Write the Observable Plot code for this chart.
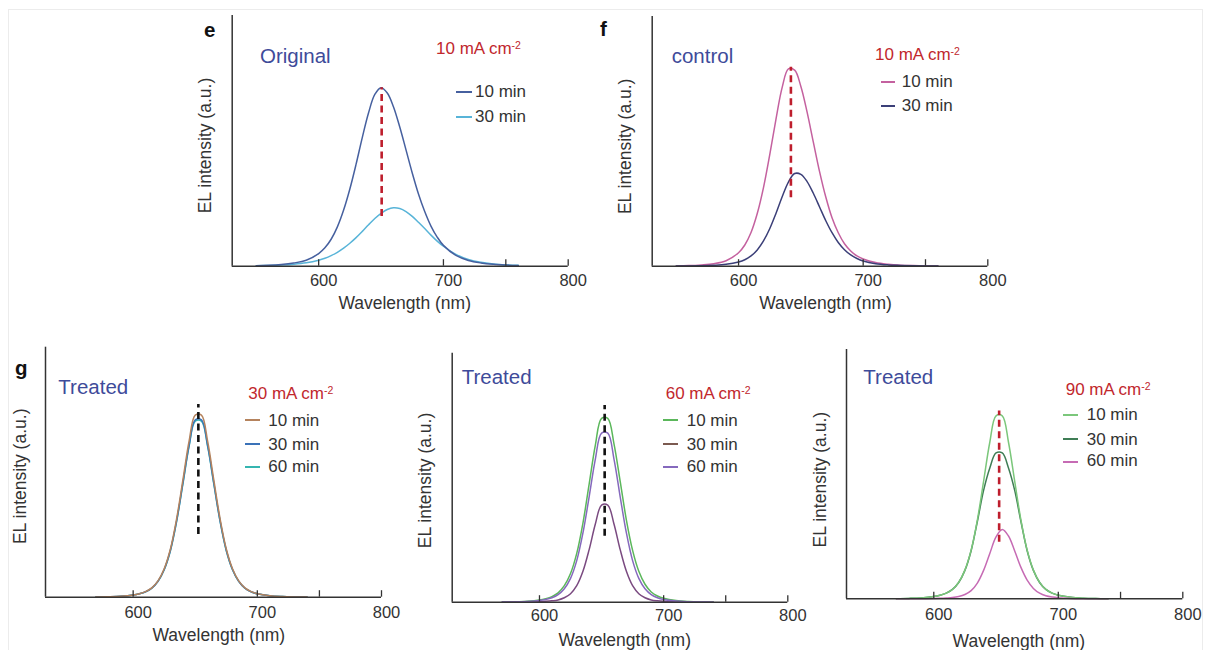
<!DOCTYPE html>
<html><head><meta charset="utf-8">
<script src="https://cdn.jsdelivr.net/npm/d3@7"></script>
<script src="https://cdn.jsdelivr.net/npm/@observablehq/plot@0.6"></script>
<style>
body{margin:0;background:#fff;}
#root{position:relative;width:1205px;height:650px;overflow:hidden;background:#fff;font-family:Arial,"Liberation Sans",Helvetica,sans-serif;color:#333;}
.abs{position:absolute;white-space:nowrap;}
.plotbox{position:absolute;}
#frame{position:absolute;left:8px;top:9px;width:1195px;height:700px;border:1px solid #ececec;box-sizing:border-box;}
</style></head><body><div id="root"><div id="frame"></div></div>
<script>
// ---------------- data ----------------
const wlTop = [550,560,570,580,590,600,605,610,615,620,625,630,635,640,645,650,655,660,665,670,675,680,685,690,695,700,710,720,730,740,750,760];
const wlBottom = [570,580,590,600,605,610,615,620,625,630,635,640,645,650,655,660,665,670,675,680,685,690,695,700,710,720,730,740];

// panel e (Original, 10 mA cm-2)
const e10 = [0.2,0.36,0.68,1.28,2.35,5.05,7.33,10.75,15.7,22.4,30.8,40.7,51.4,61.2,68.5,71.2,69.1,63.5,55.5,46.4,37.2,28.8,21.8,16.0,11.6,8.3,4.3,2.3,1.3,0.75,0.45,0.26];
const e30 = [0.2,0.3,0.48,0.79,1.35,2.4,3.19,4.24,5.55,7.2,9.16,11.4,13.9,16.5,19.0,21.1,22.6,23.3,23.0,21.8,19.9,17.5,15.0,12.4,10.0,7.95,4.73,2.68,1.54,0.89,0.52,0.33];
// panel f (control, 10 mA cm-2)
const f10 = [0.12,0.24,0.52,1.0,2.2,5.4,8.5,13.5,21.1,31.5,44.6,58.8,71.6,79.0,78.5,72.0,61.7,49.7,37.9,27.7,19.4,13.4,9.0,6.1,4.1,2.9,1.45,0.77,0.41,0.24,0.13,0.08];
const f30 = [0.05,0.09,0.18,0.36,0.74,1.7,2.6,4.1,6.5,10.1,15.0,21.1,27.8,33.7,37.1,36.8,33.9,29.2,23.7,18.2,13.4,9.5,6.6,4.5,3.1,2.1,1.0,0.52,0.32,0.17,0.09,0.05];
// panel g (Treated, 30 mA cm-2)
const g10 = [0.07,0.16,0.37,0.89,1.41,2.23,3.72,6.54,11.4,19.3,31.4,46.7,62.3,72.8,72.8,62.3,46.7,31.4,19.3,11.4,6.54,3.72,2.23,1.41,0.59,0.25,0.1,0.04];
const g30 = [0.07,0.16,0.36,0.87,1.37,2.17,3.62,6.36,11.1,18.8,30.5,45.5,60.6,70.9,70.9,60.6,45.5,30.5,18.8,11.1,6.36,3.62,2.17,1.37,0.57,0.24,0.1,0.04];
const g60 = [0.07,0.15,0.36,0.86,1.36,2.15,3.59,6.32,11.0,18.6,30.3,45.1,60.2,70.4,70.4,60.2,45.1,30.3,18.6,11.0,6.32,3.59,2.15,1.36,0.57,0.24,0.1,0.04];
// panel h (Treated, 60 mA cm-2)
const h10 = [0.07,0.16,0.38,0.9,1.43,2.26,3.77,6.63,11.5,19.6,31.8,47.4,63.1,73.8,73.8,63.6,48.5,33.0,20.8,12.4,7.2,4.1,2.5,1.6,0.7,0.3,0.12,0.05];
const h30 = [0.02,0.05,0.1,0.19,0.34,0.56,0.92,1.77,3.42,6.63,12.4,21.1,31.4,39.0,39.0,31.4,21.1,12.4,6.63,3.42,1.77,0.92,0.56,0.34,0.12,0.05,0.02,0.01];
const h60 = [0.06,0.12,0.3,0.69,1.11,1.8,3.05,5.41,9.58,16.7,27.8,42.3,57.5,67.9,67.9,57.5,42.3,27.8,16.7,9.58,5.41,3.05,1.8,1.11,0.45,0.19,0.08,0.03];
// panel i (Treated, 90 mA cm-2)
const i10 = [0.07,0.16,0.37,0.9,1.42,2.25,3.75,6.59,11.5,19.5,31.6,47.1,62.8,73.4,73.4,62.8,47.1,31.6,19.5,11.5,6.59,3.75,2.25,1.42,0.6,0.25,0.1,0.04];
const i30 = [0.07,0.16,0.37,0.9,1.42,2.25,3.75,6.55,11.4,19.3,31.0,43.5,52.5,58.5,58.5,52.5,43.5,31.0,19.3,11.4,6.55,3.75,2.25,1.42,0.6,0.25,0.1,0.04];
const i60 = [0.01,0.02,0.04,0.11,0.18,0.31,0.5,0.92,1.72,3.28,6.31,11.4,18.2,24.8,27.8,25.2,19.2,12.6,7.5,4.17,2.25,1.22,0.7,0.42,0.16,0.06,0.03,0.01];

// dashed peak markers: [wavelength, from, to]
const dashE = [650.5, 19.8, 71.2];
const dashF = [642, 27.4, 79.7];
const dashG = [652.5, 25.1, 77.1];
const dashH = [652.5, 26.5, 79.0];
const dashI = [652.5, 22.7, 75.3];

const xTicks = [600, 700, 750, 800];
const xTickLabels = [600, 700, 800];
const timesTwo = ["10 min", "30 min"];
const timesThree = ["10 min", "30 min", "60 min"];
const panelLetters = ["e", "f", "g"];
const conditionLabels = ["Original", "control", "Treated", "Treated", "Treated"];
const densityLabels = ["10", "10", "30", "60", "90"];
const xTitle = "Wavelength (nm)";
const yTitle = "EL intensity (a.u.)";

// ---------------- panels ----------------
const panels = [
  {wl: wlTop, values: [e10, e30], names: timesTwo, colors: ["#46609f", "#58b4d8"], legendColors: ["#46609f", "#58b4d8"], dash: dashE, dashColor: "#be1e2d", order: [1, 0],
   cond: conditionLabels[0], dens: densityLabels[0],
   L: {left:180, top:0, width:410, height:320, mt:15, mr:22.3, mb:54.3, ml:51.7, xDomain:[530.7,800], tickPad:7.6, xtDy:37.4, xtDx:4.5, ytDx:-26.7, ytDy:4.7,
       condX:260, condB:63.3, densX:436, densB:54.3, swX:456, swW:15.7, txtX:475, swY:[91.7,116.7], txtB:[97.3,122.3]}},
  {wl: wlTop, values: [f10, f30], names: timesTwo, colors: ["#c4619f", "#3b3f78"], legendColors: ["#c4619f", "#3b3f78"], dash: dashF, dashColor: "#be1e2d", order: [0, 1],
   cond: conditionLabels[1], dens: densityLabels[1],
   L: {left:600, top:0, width:405, height:320, mt:16, mr:17.7, mb:54.3, ml:51.7, xDomain:[530.7,800], tickPad:7.7, xtDy:37.6, xtDx:5.5, ytDx:-26.7, ytDy:5,
       condX:671.7, condB:63.3, densX:875, densB:60, swX:881, swW:14, txtX:901.7, swY:[81.7,106], txtB:[87.3,111.7]}},
  {wl: wlBottom, values: [g10, g30, g60], names: timesThree, colors: ["#b5835d", "#3a72b8", "#35b5b0"], legendColors: ["#b5835d", "#3a72b8", "#35b5b0"], dash: dashG, dashColor: "#111", order: [2, 1, 0],
   cond: conditionLabels[2], dens: densityLabels[2],
   L: {left:0, top:330, width:400, height:320, mt:16.7, mr:19, mb:53.3, ml:45, xDomain:[529.4,800], tickPad:9.1, xtDy:38.3, xtDx:5.3, ytDx:-25, ytDy:4.1,
       condX:58.3, condB:394, densX:248.3, densB:399, swX:245, swW:15, txtX:268.3, swY:[420,444.3,466.7], txtB:[426,450.7,472.7]}},
  {wl: wlBottom, values: [h10, h30, h60], names: timesThree, colors: ["#5bb75b", "#7a4a80", "#8569bd"], legendColors: ["#5bb75b", "#7b5a50", "#8569bd"], dash: dashH, dashColor: "#111", order: [0, 1, 2],
   cond: conditionLabels[3], dens: densityLabels[3],
   L: {left:400, top:330, width:400, height:320, mt:22.7, mr:12.7, mb:48.3, ml:51.7, xDomain:[529.7,800], tickPad:7.4, xtDy:38, xtDx:4.7, ytDx:-26.7, ytDy:2.8,
       condX:461.7, condB:384, densX:665.7, densB:399, swX:663, swW:15, txtX:686.7, swY:[420,444.3,466.7], txtB:[426,450.7,472.7]}},
  {wl: wlBottom, values: [i10, i30, i60], names: timesThree, colors: ["#7bc77b", "#3f7d55", "#c66bb4"], legendColors: ["#7bc77b", "#3f7d55", "#c66bb4"], dash: dashI, dashColor: "#be1e2d", order: [1, 0, 2],
   cond: conditionLabels[4], dens: densityLabels[4],
   L: {left:800, top:330, width:405, height:320, mt:19, mr:22.7, mb:51.7, ml:46, xDomain:[529.9,800], tickPad:9.1, xtDy:43, xtDx:4.2, ytDx:-26, ytDy:5.5,
       condX:863.3, condB:384, densX:1065.7, densB:395.7, swX:1063, swW:15, txtX:1086.7, swY:[415,439.3,461.7], txtB:[420.7,445,466.7]}}
];

const root = document.getElementById("root");
const FONT = 'Arial, "Liberation Sans", Helvetica, sans-serif';

function addText(html, left, baseline, size, color, weight) {
  const d = document.createElement("div");
  d.className = "abs";
  d.style.left = left + "px";
  d.style.top = (baseline - 0.8465 * size) + "px";
  d.style.fontSize = size + "px";
  d.style.lineHeight = size + "px";
  d.style.color = color || "#333";
  if (weight) d.style.fontWeight = weight;
  d.innerHTML = html;
  root.appendChild(d);
}
function addSwatch(x, y, w, color) {
  const d = document.createElement("div");
  d.className = "abs";
  d.style.left = x + "px";
  d.style.top = (y - 1) + "px";
  d.style.width = w + "px";
  d.style.height = "2px";
  d.style.background = color;
  root.appendChild(d);
}

panels.forEach(p => {
  const L = p.L;
  const innerH = L.height - L.mt - L.mb;
  const marks = [];
  p.order.forEach(k => {
    const vals = p.values[k];
    const rows = p.wl.map((w, j) => ({wl: w, v: vals[j]}));
    marks.push(Plot.line(rows, {x: "wl", y: "v", stroke: p.colors[k], strokeWidth: 1.5, curve: "catmull-rom"}));
  });
  marks.push(Plot.ruleX([p.dash], {x: d => d[0], y1: d => d[1], y2: d => d[2], stroke: p.dashColor, strokeWidth: 2.6, strokeDasharray: "7,4.5"}));
  marks.push(Plot.ruleY([0], {stroke: "#333", strokeWidth: 1.5}));
  marks.push(Plot.ruleX([L.xDomain[0]], {stroke: "#333", strokeWidth: 1.5}));
  marks.push(Plot.ruleX(xTicks, {insetTop: innerH - 6.5, stroke: "#333", strokeWidth: 1.3}));
  marks.push(Plot.axisX({ticks: xTicks, tickFormat: d => xTickLabels.includes(d) ? String(d) : "", tickSize: 0, tickPadding: L.tickPad, fontSize: 16.5, label: null, color: "#333", dx: 5}));
  marks.push(Plot.text([xTitle], {frameAnchor: "bottom", lineAnchor: "middle", textAnchor: "middle", dy: L.xtDy, dx: L.xtDx, fontSize: 17.5, fill: "#333"}));
  marks.push(Plot.text([yTitle], {frameAnchor: "left", lineAnchor: "middle", textAnchor: "middle", rotate: -90, dx: L.ytDx, dy: L.ytDy, fontSize: 17.5, fill: "#333"}));
  const svg = Plot.plot({
    width: L.width, height: L.height,
    marginTop: L.mt, marginRight: L.mr, marginBottom: L.mb, marginLeft: L.ml,
    x: {domain: L.xDomain},
    y: {domain: [0, 100], axis: null},
    style: {background: "transparent", fontFamily: FONT, overflow: "visible", color: "#333"},
    marks
  });
  const box = document.createElement("div");
  box.className = "plotbox";
  box.style.left = L.left + "px";
  box.style.top = L.top + "px";
  box.appendChild(svg);
  root.appendChild(box);

  addText(p.cond, L.condX, L.condB, 20.5, "#3e4b9a");
  addText(p.dens + ' mA cm<span style="font-size:10.5px;position:relative;top:-5px">-2</span>', L.densX, L.densB, 17, "#c1272d");
  p.names.forEach((n, k) => {
    addSwatch(L.swX, L.swY[k], L.swW, p.legendColors[k]);
    addText(n, L.txtX, L.txtB[k], 17, "#333");
  });
});

// panel letters
addText(panelLetters[0], 204, 37.3, 20.5, "#111", "bold");
addText(panelLetters[1], 600, 36, 20.5, "#111", "bold");
addText(panelLetters[2], 15, 375, 20.5, "#111", "bold");
</script></body></html>
